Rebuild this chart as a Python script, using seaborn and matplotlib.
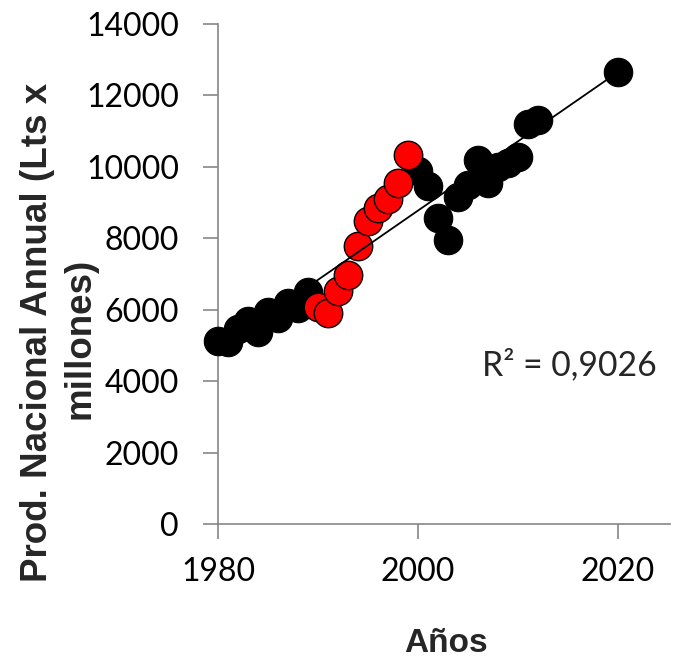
import numpy as np
import pandas as pd
import matplotlib
matplotlib.use("Agg")
import matplotlib.pyplot as plt
import seaborn as sns

years_black = [1980, 1981, 1982, 1983, 1984, 1985, 1986, 1987, 1988, 1989,
               2000, 2001, 2002, 2003, 2004, 2005, 2006, 2007, 2008, 2009,
               2010, 2011, 2012, 2020]
prod_black = [5130, 5100, 5460, 5690, 5380, 5940, 5770, 6190, 6050, 6500,
              9880, 9470, 8570, 7950, 9160, 9500, 10200, 9550, 10000, 10110,
              10280, 11200, 11320, 12660]
years_red = [1990, 1991, 1992, 1993, 1994, 1995, 1996, 1997, 1998, 1999]
prod_red = [6080, 5910, 6530, 6970, 7790, 8490, 8850, 9100, 9550, 10340]

x_ticks = [1980, 2000, 2020]
y_ticks = [0, 2000, 4000, 6000, 8000, 10000, 12000, 14000]
r2_label = "R² = 0,9026"
x_label = "Años"
y_label_1 = "Prod. Nacional Annual (Lts x"
y_label_2 = "millones)"

sns.set_theme(style="white")
plt.rcParams['font.family'] = ['Lato', 'DejaVu Sans']
BOLD = ['Liberation Sans', 'DejaVu Sans']

df_black = pd.DataFrame({"year": years_black, "prod": prod_black})
df_red = pd.DataFrame({"year": years_red, "prod": prod_red})
df_all = pd.concat([df_black, df_red], ignore_index=True)

W, H = 674, 661
fig = plt.figure(figsize=(W/100, H/100), dpi=100)
ax = fig.add_axes([218/W, 1 - 524/H, (670-218)/W, (524-24)/H])

sns.scatterplot(data=df_black, x="year", y="prod", ax=ax, color="black",
                s=420, edgecolor="black", linewidth=0.8, clip_on=False, zorder=3)
sns.scatterplot(data=df_red, x="year", y="prod", ax=ax, color="#ff0000",
                s=420, edgecolor="black", linewidth=1.0, clip_on=False, zorder=4)
sns.regplot(data=df_all, x="year", y="prod", ax=ax, scatter=False, ci=None,
            truncate=True, line_kws={"color": "black", "linewidth": 1.3, "zorder": 5})

ax.set_xlim(1980, 2025.2)
ax.set_ylim(0, 14000)
ax.set_xticks(x_ticks)
ax.set_yticks(y_ticks)
ax.tick_params(axis="both", labelsize=23, colors="#868686", length=11, width=1.2,
               labelcolor="black", direction="out", bottom=True, left=True)
ax.tick_params(axis="x", pad=13)
ax.tick_params(axis="y", pad=17)
for sp in ["top", "right"]:
    ax.spines[sp].set_visible(False)
for sp in ["left", "bottom"]:
    ax.spines[sp].set_color("#868686")
    ax.spines[sp].set_linewidth(1.2)
ax.set_xlabel("")
ax.set_ylabel("")

renderer = fig.canvas.get_renderer()

def fit_text(t, target_px, horizontal=True):
    for _ in range(3):
        bb = t.get_window_extent(renderer=renderer)
        cur = bb.width if horizontal else bb.height
        t.set_fontsize(t.get_fontsize() * target_px / cur)

def fx(px):
    return px / W

def fy(py):
    return 1 - py / H

t1 = fig.text(fx(47), fy(332), y_label_1, rotation=90, rotation_mode="anchor",
              ha="center", va="baseline", fontsize=20, fontweight="bold", family=BOLD)
fit_text(t1, 500, horizontal=False)
t2 = fig.text(fx(90), fy(338), y_label_2, rotation=90, rotation_mode="anchor",
              ha="center", va="baseline", fontsize=t1.get_fontsize(), fontweight="bold", family=BOLD)
tx = fig.text(fx(446), fy(652), x_label, ha="center", va="baseline",
              fontsize=20, fontweight="bold", family=BOLD)
fit_text(tx, 83)
tr = ax.text(0, 0, r2_label, transform=None, fontsize=22)
tr.set_position((657, (H - 375)))
tr.set_ha("right")
tr.set_va("baseline")
fit_text(tr, 175)

fig.savefig("out.png", dpi=100)
